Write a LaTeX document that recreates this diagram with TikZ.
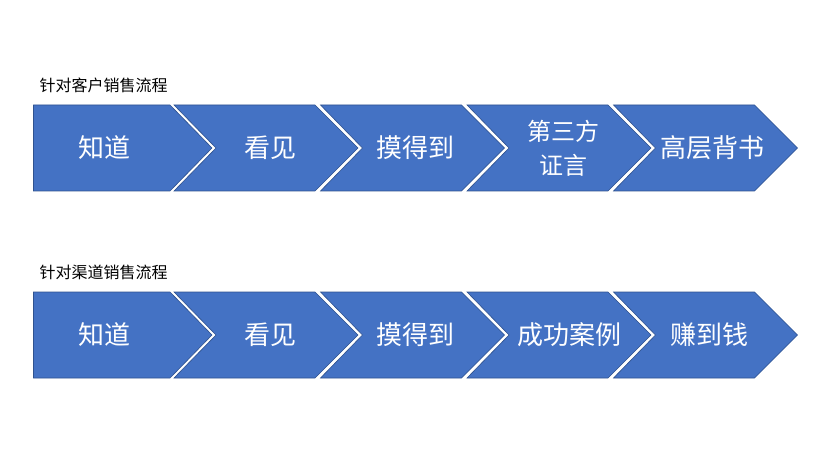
\documentclass[tikz,border=0pt]{standalone}
\usepackage{fontspec}
\setmainfont{Noto Sans CJK SC}
\begin{document}
\begin{tikzpicture}[x=1pt,y=-1pt,
  chev/.style={fill={rgb,255:red,68;green,114;blue,196},draw={rgb,255:red,47;green,82;blue,143},line width=0.6pt},
  lbl/.style={text=white,font=\fontsize{26}{31}\selectfont,align=center},
  ttl/.style={anchor=west,font=\fontsize{16}{19}\selectfont}]
\useasboundingbox (0,0) rectangle (831,468);
\foreach \r/\yt in {0/105,1/292}{
  \pgfmathsetmacro\yb{\yt+86}
  \pgfmathsetmacro\ym{\yt+43}
  \path[chev] (33.5,\yt) -- (170,\yt) -- (212,\ym) -- (170,\yb) -- (33.5,\yb) -- cycle;
  \foreach \i in {1,2,3,4}{
    \pgfmathsetmacro\L{174+146.5*(\i-1)}
    \pgfmathsetmacro\R{\L+141}
    \path[chev] (\L,\yt) -- (\R,\yt) -- (\R+43,\ym) -- (\R,\yb) -- (\L,\yb) -- (\L+42,\ym) -- cycle;
  }
}
\node[ttl] (t1) at (36,85) {针对客户销售流程};
\node[ttl] (t2) at (36,272) {针对渠道销售流程};
\node[lbl] (a1) at (104,148) {知道};
\node[lbl] (a2) at (270,148) {看见};
\node[lbl] (a3) at (415,148) {摸得到};
\node[lbl,font=\fontsize{24}{34}\selectfont] (a4) at (563,148) {第三方\\证言};
\node[lbl] (a5) at (712,148) {高层背书};
\node[lbl] (b1) at (104,335) {知道};
\node[lbl] (b2) at (270,335) {看见};
\node[lbl] (b3) at (415,335) {摸得到};
\node[lbl] (b4) at (569,335) {成功案例};
\node[lbl] (b5) at (709,335) {赚到钱};
\end{tikzpicture}
\end{document}
